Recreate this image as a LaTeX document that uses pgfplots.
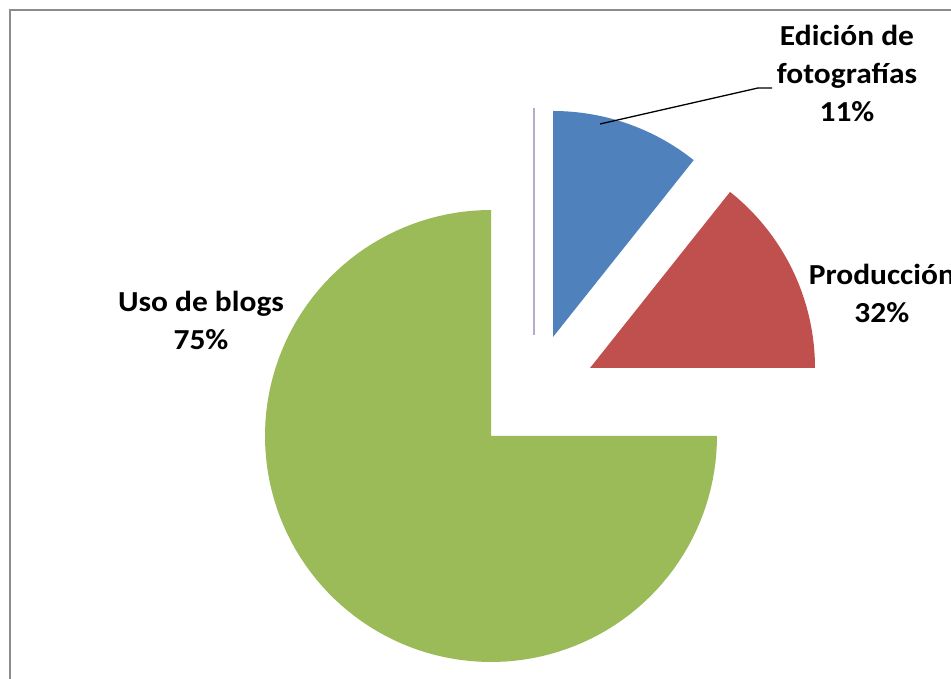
\documentclass[border=0pt]{standalone}
\usepackage{pgfplots}
\pgfplotsset{compat=1.18}
\usepackage{fontspec}
\setmainfont{Carlito}
\definecolor{sgreen}{HTML}{9BBB59}
\definecolor{sred}{HTML}{C0504D}
\definecolor{sblue}{HTML}{4F81BD}
\definecolor{spurple}{HTML}{B8A9CF}
\definecolor{frame}{HTML}{8C8C8C}
\begin{document}
\begin{tikzpicture}
\begin{axis}[x=1pt, y=1pt, xmin=0, xmax=951, ymin=0, ymax=679,
  hide axis, clip=true, clip mode=global]
% slices: Uso de blogs 270 deg (90:360), Producción (0:51.5), Edición de fotografías (51.5:90)
\addplot[fill=sgreen, draw=none, domain=90:360, samples=120, variable=\t]
  ({491+226*cos(t)}, {243+226*sin(t)}) -- (axis cs:491,243) -- cycle;
\addplot[fill=sred, draw=none, domain=0:51.5, samples=40, variable=\t]
  ({590+225*cos(t)}, {311+225*sin(t)}) -- (axis cs:590,311) -- cycle;
\addplot[fill=sblue, draw=none, domain=51.5:90, samples=40, variable=\t]
  ({553+226*cos(t)}, {342+226*sin(t)}) -- (axis cs:553,342) -- cycle;
\addplot[spurple, line width=1.6pt] coordinates {(534,344) (534,571)};
% leader line
\addplot[black, line width=1.3pt] coordinates {(600,555) (758,591) (772,591)};
\node[font=\bfseries\fontsize{29}{38}\selectfont, align=center, xscale=1.085] at (axis cs:847,606)
  {Edición de\\fotografías\\11\%};
\node[font=\bfseries\fontsize{29}{38}\selectfont, align=center, anchor=west, xscale=1.085] at (axis cs:805,386)
  {Producción\\32\%};
\node[font=\bfseries\fontsize{29}{38}\selectfont, align=center, xscale=1.085] at (axis cs:201,359)
  {Uso de blogs\\75\%};
\draw[frame, line width=2pt] (axis cs:10,-20) rectangle (axis cs:990,669);
\end{axis}
\pgfresetboundingbox
\path[use as bounding box] (current axis.south west) rectangle (current axis.north east);
\end{tikzpicture}
\end{document}
